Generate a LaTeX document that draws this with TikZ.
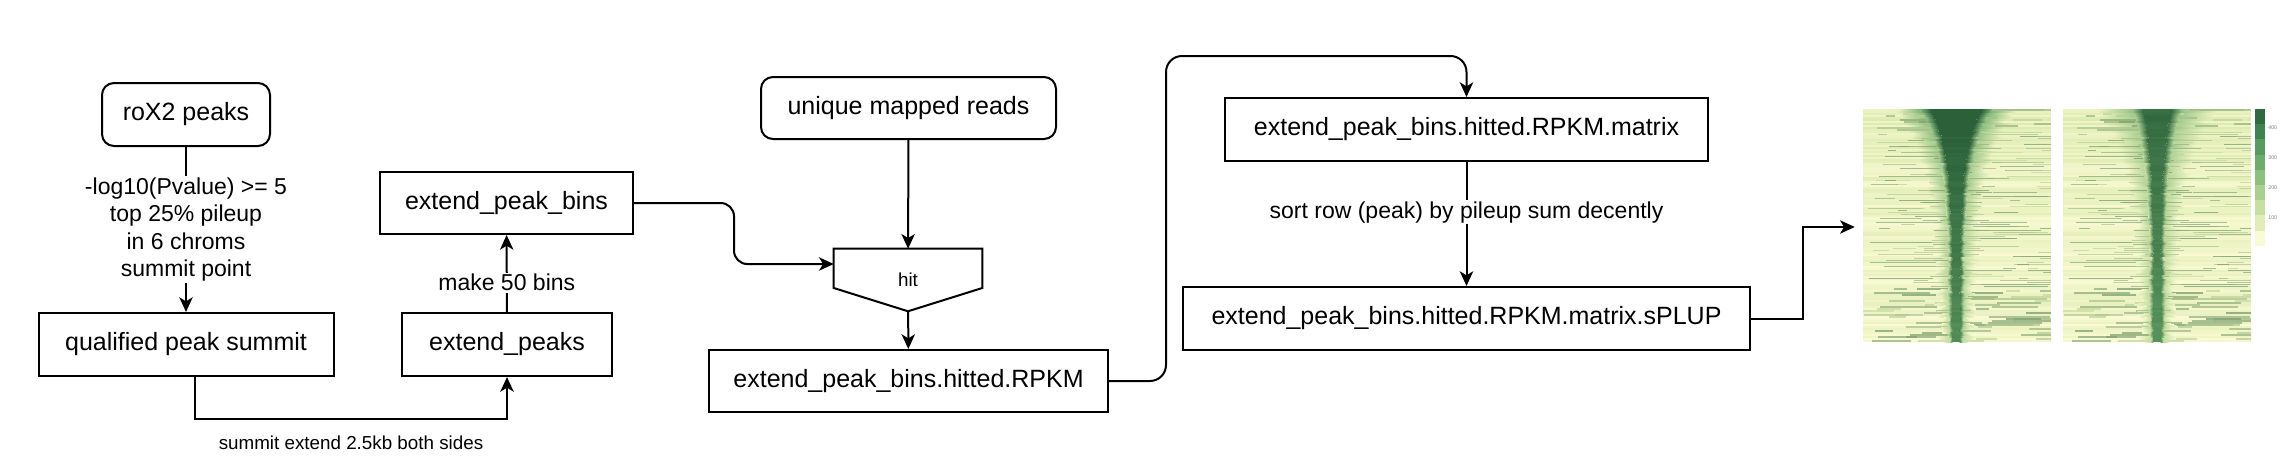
\documentclass[tikz,border=0pt]{standalone}
\usepackage{fontspec}
\setmainfont{Liberation Sans}
\usetikzlibrary{arrows.meta,calc}
\definecolor{hmpale}{HTML}{FBFBD5}
\definecolor{hmlight}{HTML}{DCEAB0}
\definecolor{hmmid}{HTML}{6FAE6E}
\definecolor{hmdark}{HTML}{2B6039}
\definecolor{cba}{HTML}{2F6B41}
\definecolor{cbb}{HTML}{3E8450}
\definecolor{cbc}{HTML}{559C5E}
\definecolor{cbd}{HTML}{6DAD6B}
\definecolor{cbe}{HTML}{8CC07D}
\definecolor{cbf}{HTML}{A9D08F}
\definecolor{cbg}{HTML}{C6E0A2}
\definecolor{cbh}{HTML}{E0EDB8}
\definecolor{cbi}{HTML}{FAFAD4}
\newcommand\hmap[6]{%
  \foreach \i in {0,...,115}{%
    \pgfmathsetmacro\hmt{\i/115}%
    \pgfmathsetmacro\hya{109+\i*2.009}%
    \pgfmathsetmacro\hyb{\hya+2.2}%
    \pgfmathtruncatemacro\hgb{min(100,rnd*60+45*(1-\hmt)^2)}%
    \colorlet{rowbase}{hmlight!\hgb!hmpale}%
    \fill[rowbase] (#1,\hya) rectangle (#1+188,\hyb);%
    \pgfmathsetmacro\hhw{10+#4*exp(-3.5*\hmt)+rnd*8}%
    \pgfmathsetmacro\hcw{3+#3*exp(-6*\hmt)+rnd*2}%
    \pgfmathsetmacro\hgw{2+7*exp(-4*\hmt)+rnd*2}%
    \pgfmathsetmacro\hmw{\hcw+\hgw}%
    \pgfmathtruncatemacro\hhg{min(100,#6*(0.2+0.8*exp(-3*\hmt))+rnd*20)}%
    \colorlet{rowhalo}{hmmid!\hhg!hmlight}%
    \pgfmathtruncatemacro\hcg{min(100,#5*(1-0.65*\hmt)+rnd*12)}%
    \colorlet{rowcore}{hmdark!\hcg!hmmid}%
    \shade[left color=rowbase, right color=rowhalo] (#2-\hhw,\hya) rectangle (#2-\hmw,\hyb);%
    \shade[left color=rowhalo, right color=rowbase] (#2+\hmw,\hya) rectangle (#2+\hhw,\hyb);%
    \foreach \s in {1,2}{%
      \pgfmathsetmacro\hsx{#1+rnd*180}%
      \pgfmathsetmacro\hsl{8+rnd*60}%
      \pgfmathsetmacro\hse{min(\hsx+\hsl,#1+188)}%
      \pgfmathtruncatemacro\hsg{8+rnd*45}%
      \fill[hmdark!\hsg!hmlight, opacity=0.8] (\hsx,\hya+0.4) rectangle (\hse,\hyb-0.5);%
    }%
    \shade[left color=rowhalo, right color=rowcore] (#2-\hmw,\hya) rectangle (#2-\hcw,\hyb);%
    \shade[left color=rowcore, right color=rowhalo] (#2+\hcw,\hya) rectangle (#2+\hmw,\hyb);%
    \fill[rowcore] (#2-\hcw,\hya) rectangle (#2+\hcw,\hyb);%
  }%
}
\begin{document}
\begin{tikzpicture}[x=0.75pt,y=-0.75pt,
  box/.style={draw, line width=1.5pt, inner sep=0pt, font=\fontsize{18.75pt}{22pt}\selectfont},
  rbox/.style={box, rounded corners=9pt},
  lbl/.style={fill=white, inner sep=1pt, font=\fontsize{17.25pt}{20.6pt}\selectfont, align=center},
  small/.style={font=\fontsize{14.1pt}{17pt}\selectfont},
  conn/.style={line width=1.5pt, -{Stealth[length=11pt,width=10pt,inset=3pt]}},
  tick/.style={font=\fontsize{4pt}{5pt}\selectfont, text=gray, anchor=west, inner sep=0pt}
]
\useasboundingbox (0,0) rectangle (2284,465);
% nodes
\node[rbox, minimum width=126pt, minimum height=47.25pt] (rox) at (186,114.5) {roX2 peaks};
\node[box, minimum width=221.25pt, minimum height=47.25pt] (qps) at (186,344.5) {qualified peak summit};
\node[box, minimum width=157.5pt, minimum height=47.25pt] (ep) at (507,344.5) {extend\_peaks};
\node[box, minimum width=189.75pt, minimum height=46.5pt] (epb) at (506.5,203) {extend\_peak\_bins};
\node[rbox, minimum width=221.25pt, minimum height=46.5pt] (umr) at (908.5,108) {unique mapped reads};
\node[small, minimum width=111pt, minimum height=46.5pt, inner sep=0pt] (hit) at (908,280) {hit};
\draw[line width=1.5pt] (hit.north west) -- (hit.north east) -- ([yshift=-6pt]hit.east) -- (hit.south) -- ([yshift=-6pt]hit.west) -- cycle;
\node[box, minimum width=299.25pt, minimum height=46.5pt] (rpkm) at (908.5,381) {extend\_peak\_bins.hitted.RPKM};
\node[box, minimum width=362.25pt, minimum height=47.25pt] (matrix) at (1466.5,129.5) {extend\_peak\_bins.hitted.RPKM.matrix};
\node[box, minimum width=425.25pt, minimum height=47.25pt] (splup) at (1466.5,318.5) {extend\_peak\_bins.hitted.RPKM.matrix.sPLUP};
\node[minimum width=307.5pt, minimum height=174.75pt, inner sep=0pt] (hm) at (2060,225.5) {};
% heatmaps
\pgfmathsetseed{42}
\hmap{1863}{1956}{22}{45}{100}{75}
\pgfmathsetseed{42}
\hmap{2063}{2157}{11}{45}{80}{50}
% colorbar
\foreach \c [count=\k from 0] in {cba,cbb,cbc,cbd,cbe,cbf,cbg,cbh,cbi}{
  \fill[\c] (2255,109+\k*15.2) rectangle (2265,109+\k*15.2+15.4);
}
\node[tick] (t4) at (2268,128) {400};
\node[tick] (t3) at (2268,158) {300};
\node[tick] (t2) at (2268,188) {200};
\node[tick] (t1) at (2268,218) {100};
% connectors
\draw[conn] (rox) -- node[lbl]{-log10(Pvalue) >= 5\\top 25\% pileup\\in 6 chroms\\summit point} (qps);
\coordinate (c1) at (195,419);
\draw[conn] (qps.south -| c1) -- (c1) -| (ep.south) node[pos=0.25, small, yshift=-18pt] {summit extend 2.5kb both sides};
\draw[conn] (ep) -- node[lbl, pos=0.38]{make 50 bins} (epb);
\coordinate (c2) at (734,264);
\draw[conn, rounded corners=10pt] (epb.east) -| (c2) -- ([yshift=12pt]hit.west);
\draw[conn] (umr) -- (hit);
\draw[conn] (hit) -- (rpkm);
\coordinate (c3) at (1166,56);
\draw[conn, rounded corners=12pt] (rpkm.east) -| (c3) -| (matrix.north);
\draw[conn] (matrix) -- node[lbl, pos=0.405]{sort row (peak) by pileup sum decently} (splup);
\coordinate (c4) at (1803,227);
\draw[conn] (splup.east) -| (c4) -- (hm.west |- c4);
\end{tikzpicture}
\end{document}
